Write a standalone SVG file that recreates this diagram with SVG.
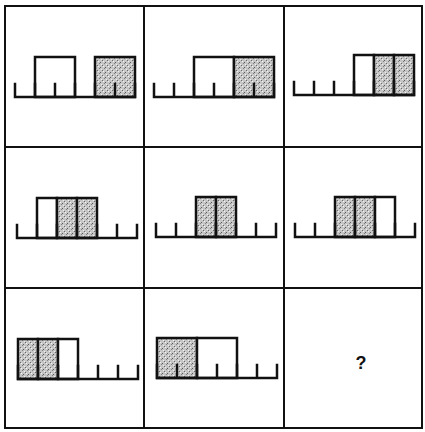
<svg xmlns="http://www.w3.org/2000/svg" width="425" height="432" viewBox="0 0 425 432">
  <defs>
    <pattern id="stipple" width="5" height="5" patternUnits="userSpaceOnUse">
      <rect width="5" height="5" fill="#c6c6c6"/>
      <rect x="0" y="0" width="1" height="1" fill="#5a5a5a"/>
      <rect x="2" y="3" width="1" height="1" fill="#6a6a6a"/>
      <rect x="4" y="1" width="1" height="1" fill="#808080"/>
      <rect x="3" y="4" width="1" height="1" fill="#f4f4f4"/>
      <rect x="1" y="2" width="1" height="1" fill="#f0f0f0"/>
    </pattern>
    <path id="ruler" d="M0,-13 V0 H120 V-13 M20,0 V-13 M40,0 V-13 M60,0 V-13 M80,0 V-13 M100,0 V-13"/>
  </defs>
  <style>
    .grid { fill: none; stroke: #111; stroke-width: 2; }
    .ruler { fill: none; stroke: #111; stroke-width: 2.5; stroke-linecap: square; }
    .white { fill: #fff; stroke: #111; stroke-width: 2.5; }
    .shade { fill: url(#stipple); stroke: #111; stroke-width: 2.5; }
    .q { font-family: "Liberation Sans", Arial, sans-serif; font-size: 18px; font-weight: bold; fill: #111; text-anchor: middle; }
  </style>

  <g id="grid">
    <rect class="grid" x="5" y="6" width="417" height="422"/>
    <line class="grid" x1="144" y1="6" x2="144" y2="428"/>
    <line class="grid" x1="284" y1="6" x2="284" y2="428"/>
    <line class="grid" x1="5" y1="147" x2="422" y2="147"/>
    <line class="grid" x1="5" y1="288" x2="422" y2="288"/>
  </g>

  <g id="cell1" transform="translate(15,97)">
    <rect class="white" x="20" y="-40" width="40" height="40"/>
    <rect class="shade" x="80" y="-40" width="40" height="40"/>
    <use href="#ruler" class="ruler"/>
  </g>

  <g id="cell2" transform="translate(154,97)">
    <rect class="white" x="40" y="-40" width="40" height="40"/>
    <rect class="shade" x="80" y="-40" width="40" height="40"/>
    <use href="#ruler" class="ruler"/>
  </g>

  <g id="cell3" transform="translate(294,95)">
    <rect class="white" x="60" y="-40" width="20" height="40"/>
    <rect class="shade" x="80" y="-40" width="20" height="40"/>
    <rect class="shade" x="100" y="-40" width="20" height="40"/>
    <use href="#ruler" class="ruler"/>
  </g>

  <g id="cell4" transform="translate(17,238)">
    <rect class="white" x="20" y="-40" width="20" height="40"/>
    <rect class="shade" x="40" y="-40" width="20" height="40"/>
    <rect class="shade" x="60" y="-40" width="20" height="40"/>
    <use href="#ruler" class="ruler"/>
  </g>

  <g id="cell5" transform="translate(156,237)">
    <rect class="shade" x="40" y="-40" width="20" height="40"/>
    <rect class="shade" x="60" y="-40" width="20" height="40"/>
    <use href="#ruler" class="ruler"/>
  </g>

  <g id="cell6" transform="translate(295,237)">
    <rect class="shade" x="40" y="-40" width="20" height="40"/>
    <rect class="shade" x="60" y="-40" width="20" height="40"/>
    <rect class="white" x="80" y="-40" width="20" height="40"/>
    <use href="#ruler" class="ruler"/>
  </g>

  <g id="cell7" transform="translate(18,379)">
    <rect class="shade" x="0" y="-40" width="20" height="40"/>
    <rect class="shade" x="20" y="-40" width="20" height="40"/>
    <rect class="white" x="40" y="-40" width="20" height="40"/>
    <use href="#ruler" class="ruler"/>
  </g>

  <g id="cell8" transform="translate(157,378)">
    <rect class="shade" x="0" y="-40" width="40" height="40"/>
    <rect class="white" x="40" y="-40" width="40" height="40"/>
    <use href="#ruler" class="ruler"/>
  </g>

  <g id="cell9">
    <text class="q" x="361" y="369">?</text>
  </g>
</svg>
